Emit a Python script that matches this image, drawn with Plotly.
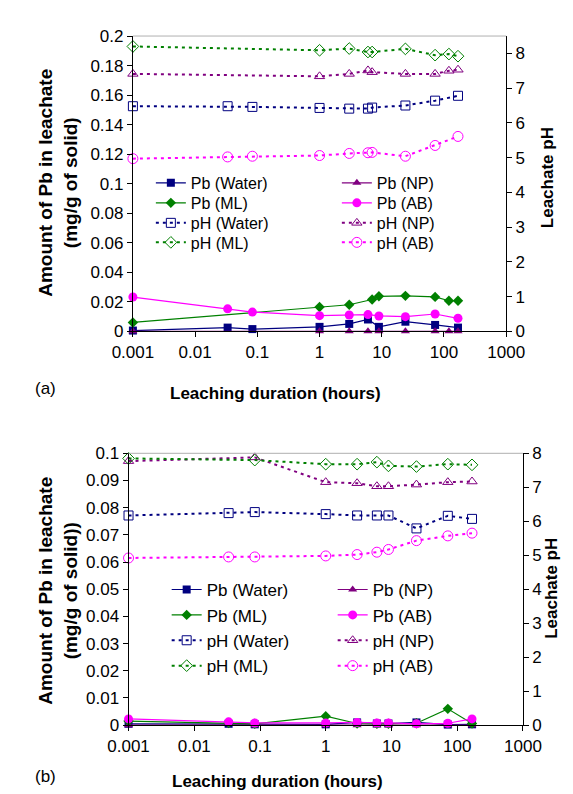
import plotly.graph_objects as go

# ---------------- data (panel a) ----------------
a_x_water = [0.001, 0.0333, 0.0833, 1, 3, 6, 9, 24, 72, 168]
a_pb_water = [0.0005, 0.0025, 0.0015, 0.003, 0.005, 0.008, 0.003, 0.0065, 0.0043, 0.0025]
a_x_np = [0.001, 1, 3, 6, 9, 24, 72, 120, 168]
a_pb_np = [0, 0, 0, 0, 0, 0, 0, 0, 0]
a_x_ml = [0.001, 1, 3, 7, 9, 24, 72, 120, 168]
a_pb_ml = [0.006, 0.0165, 0.018, 0.0215, 0.0237, 0.024, 0.0233, 0.0207, 0.0207]
a_x_ab = [0.001, 0.0333, 0.0833, 1, 3, 6, 9, 24, 72, 168]
a_pb_ab = [0.0232, 0.0152, 0.013, 0.0106, 0.011, 0.0113, 0.0104, 0.0099, 0.0117, 0.0088]

a_xph_water = [0.001, 0.0333, 0.0833, 1, 3, 6, 7, 24, 72, 168]
a_ph_water = [6.48, 6.48, 6.46, 6.43, 6.41, 6.41, 6.44, 6.5, 6.64, 6.78]
a_xph_np = [0.001, 1, 3, 6, 7, 24, 72, 120, 168]
a_ph_np = [7.41, 7.34, 7.41, 7.51, 7.46, 7.41, 7.41, 7.5, 7.53]
a_xph_ml = [0.001, 1, 3, 6, 7, 24, 72, 120, 168]
a_ph_ml = [8.2, 8.09, 8.14, 8.04, 8.04, 8.13, 7.95, 7.98, 7.92]
a_xph_ab = [0.001, 0.0333, 0.0833, 1, 3, 6, 7, 24, 72, 168]
a_ph_ab = [4.97, 5.02, 5.04, 5.06, 5.12, 5.14, 5.15, 5.04, 5.35, 5.61]

# ---------------- data (panel b) ----------------
b_x_water = [0.001, 0.0333, 0.0833, 1, 3, 6, 9, 24, 72, 168]
b_pb_water = [0.0005, 0.0005, 0.0003, 0.0003, 0.001, 0.0006, 0.0006, 0.001, 0.0002, 0.0003]
b_x_np = [0.001, 0.0833, 1, 3, 6, 9, 24, 72, 168]
b_pb_np = [0, 0, 0, 0, 0, 0, 0, 0, 0]
b_x_ml = [0.001, 0.0333, 0.0833, 1, 3, 6, 9, 24, 72, 168]
b_pb_ml = [0.0015, 0.0008, 0.0005, 0.0033, 0.0006, 0.0005, 0.0005, 0.0007, 0.006, 0.0006]
b_x_ab = [0.001, 0.0333, 0.0833, 1, 3, 6, 9, 24, 72, 168]
b_pb_ab = [0.0023, 0.0012, 0.0008, 0.0008, 0.001, 0.0008, 0.0008, 0.0005, 0.0007, 0.0023]

b_xph_water = [0.001, 0.0333, 0.0833, 1, 3, 6, 9, 24, 72, 168]
b_ph_water = [6.17, 6.24, 6.27, 6.21, 6.17, 6.17, 6.17, 5.79, 6.16, 6.07]
b_xph_np = [0.001, 0.0833, 1, 3, 6, 9, 24, 72, 168]
b_ph_np = [7.77, 7.88, 7.15, 7.12, 7.03, 7.03, 7.08, 7.15, 7.17]
b_xph_ml = [0.001, 0.0833, 1, 3, 6, 9, 24, 72, 168]
b_ph_ml = [7.85, 7.8, 7.68, 7.68, 7.74, 7.63, 7.61, 7.68, 7.66]
b_xph_ab = [0.001, 0.0333, 0.0833, 1, 3, 6, 9, 24, 72, 168]
b_ph_ab = [4.92, 4.95, 4.95, 4.98, 5.02, 5.09, 5.17, 5.43, 5.57, 5.65]

x_tickvals = [0.001, 0.01, 0.1, 1, 10, 100, 1000]
x_ticktext = ["0.001", "0.01", "0.1", "1", "10", "100", "1000"]
a_ytickvals = [0, 0.02, 0.04, 0.06, 0.08, 0.1, 0.12, 0.14, 0.16, 0.18, 0.2]
a_yticktext = ["0", "0.02", "0.04", "0.06", "0.08", "0.1", "0.12", "0.14", "0.16", "0.18", "0.2"]
b_ytickvals = [0, 0.01, 0.02, 0.03, 0.04, 0.05, 0.06, 0.07, 0.08, 0.09, 0.1]
b_yticktext = ["0", "0.01", "0.02", "0.03", "0.04", "0.05", "0.06", "0.07", "0.08", "0.09", "0.1"]
ph_tickvals = [0, 1, 2, 3, 4, 5, 6, 7, 8]

NAVY = "#000080"
PURPLE = "#800080"
GREEN = "#008000"
MAGENTA = "#ff00ff"
FONT = "Liberation Sans, Arial, sans-serif"
DOT = "3px,4px"

W, H = 573, 794
fig = go.Figure()


def pb_trace(x, y, name, color, symbol, xa, ya, legend, size=8):
    return go.Scatter(x=x, y=y, name=name, mode="lines+markers",
                      line=dict(color=color, width=1.2),
                      marker=dict(color=color, symbol=symbol, size=size),
                      xaxis=xa, yaxis=ya, legend=legend, cliponaxis=False)


def ph_trace(x, y, name, color, symbol, xa, ya, legend, size=9):
    return go.Scatter(x=x, y=y, name=name, mode="lines+markers",
                      line=dict(color=color, width=2, dash=DOT),
                      marker=dict(color=color, symbol=symbol, size=size,
                                  line=dict(color=color, width=1)),
                      xaxis=xa, yaxis=ya, legend=legend, cliponaxis=False)


# panel a: one legend per row (two entries each)
fig.add_trace(pb_trace(a_x_water, a_pb_water, "Pb (Water)", NAVY, "square", "x", "y", "legend"))
fig.add_trace(pb_trace(a_x_np, a_pb_np, "Pb (NP)", PURPLE, "triangle-up", "x", "y", "legend"))
fig.add_trace(pb_trace(a_x_ml, a_pb_ml, "Pb (ML)", GREEN, "diamond", "x", "y", "legend2"))
fig.add_trace(pb_trace(a_x_ab, a_pb_ab, "Pb (AB)", MAGENTA, "circle", "x", "y", "legend2", size=9))
fig.add_trace(ph_trace(a_xph_water, a_ph_water, "pH (Water)", NAVY, "square-open", "x", "y2", "legend3"))
fig.add_trace(ph_trace(a_xph_np, a_ph_np, "pH (NP)", PURPLE, "triangle-up-open", "x", "y2", "legend3"))
fig.add_trace(ph_trace(a_xph_ml, a_ph_ml, "pH (ML)", GREEN, "diamond-open", "x", "y2", "legend4"))
fig.add_trace(ph_trace(a_xph_ab, a_ph_ab, "pH (AB)", MAGENTA, "circle-open", "x", "y2", "legend4", size=10))

# panel b
fig.add_trace(pb_trace(b_x_water, b_pb_water, "Pb (Water)", NAVY, "square", "x2", "y3", "legend5"))
fig.add_trace(pb_trace(b_x_np, b_pb_np, "Pb (NP)", PURPLE, "triangle-up", "x2", "y3", "legend5"))
fig.add_trace(pb_trace(b_x_ml, b_pb_ml, "Pb (ML)", GREEN, "diamond", "x2", "y3", "legend6"))
fig.add_trace(pb_trace(b_x_ab, b_pb_ab, "Pb (AB)", MAGENTA, "circle", "x2", "y3", "legend6", size=9))
fig.add_trace(ph_trace(b_xph_water, b_ph_water, "pH (Water)", NAVY, "square-open", "x2", "y4", "legend7"))
fig.add_trace(ph_trace(b_xph_np, b_ph_np, "pH (NP)", PURPLE, "triangle-up-open", "x2", "y4", "legend7"))
fig.add_trace(ph_trace(b_xph_ml, b_ph_ml, "pH (ML)", GREEN, "diamond-open", "x2", "y4", "legend8"))
fig.add_trace(ph_trace(b_xph_ab, b_ph_ab, "pH (AB)", MAGENTA, "circle-open", "x2", "y4", "legend8", size=10))

# geometry in pixels
A_L, A_R, A_T, A_B = 111.7, 513, 19.5, 322
B_L, B_R, B_T, B_B = 107, 531, 447, 725.5


def px(v):
    return v / W


def py(v):
    return 1 - v / H


tickfont = dict(family=FONT, size=17, color="black")
common_x = dict(type="log", range=[-3, 3], tickvals=x_tickvals, ticktext=x_ticktext,
                showgrid=False, zeroline=False, showline=True, linecolor="black", linewidth=1,
                ticks="outside", ticklen=5, tickcolor="black", tickfont=tickfont)
common_y = dict(showgrid=False, zeroline=False, showline=True, linecolor="black", linewidth=1,
                ticks="outside", ticklen=5, tickcolor="black", tickfont=tickfont)


def row_legend(x_left, y_mid, size, entry):
    return dict(bgcolor="rgba(0,0,0,0)", font=dict(family=FONT, size=size, color="black"),
                orientation="h", entrywidth=entry, entrywidthmode="pixels",
                xanchor="left", yanchor="middle", x=px(x_left), y=py(y_mid),
                itemwidth=30, borderwidth=0)


A_LEG_X, A_ENTRY = 131, 141
B_LEG_X, B_ENTRY = 148, 121
a_rows = [170, 190.5, 211, 231]
b_rows = [587, 613, 639, 665]

layout_legends = {}
names = ["legend", "legend2", "legend3", "legend4", "legend5", "legend6", "legend7", "legend8"]
for i, yr in enumerate(a_rows):
    layout_legends[names[i]] = row_legend(A_LEG_X, yr, 16, A_ENTRY)
for i, yr in enumerate(b_rows):
    layout_legends[names[4 + i]] = row_legend(B_LEG_X, yr, 17, B_ENTRY)

fig.update_layout(
    width=W, height=H, margin=dict(l=0, r=0, t=0, b=0),
    paper_bgcolor="white", plot_bgcolor="white",
    font=dict(family=FONT, color="black"),
    xaxis=dict(common_x, domain=[px(A_L), px(A_R)], anchor="y"),
    yaxis=dict(common_y, domain=[py(A_B), py(A_T)], range=[0, 0.2], tickvals=a_ytickvals,
               ticktext=a_yticktext, anchor="x"),
    yaxis2=dict(common_y, overlaying="y", side="right", range=[0, 8.5], tickvals=ph_tickvals,
                anchor="x"),
    xaxis2=dict(common_x, domain=[px(B_L), px(B_R)], anchor="y3"),
    yaxis3=dict(common_y, domain=[py(B_B), py(B_T)], range=[0, 0.1], tickvals=b_ytickvals,
                ticktext=b_yticktext, anchor="x2"),
    yaxis4=dict(common_y, overlaying="y3", side="right", range=[0, 8], tickvals=ph_tickvals,
                anchor="x2"),
    **layout_legends,
)

# light grey top border of each plot area
for xr, yr in (("x", "y"), ("x2", "y3")):
    fig.add_shape(type="line", xref=xr + " domain", yref=yr + " domain", x0=0, x1=1, y0=1, y1=1,
                  line=dict(color="#b0b0b0", width=1))

title_font = dict(family=FONT, size=19, color="black")
xt_font = dict(family=FONT, size=17, color="black")
lab_font = dict(family=FONT, size=17, color="black")
ann = [
    dict(text="<b>Leaching duration (hours)</b>", x=px(265), y=py(386), font=xt_font),
    dict(text="<b>Leaching duration (hours)</b>", x=px(267), y=py(783), font=xt_font),
    dict(text="<b>Amount of Pb in leachate<br>(mg/g of solid)</b>", x=px(31), y=py(170), textangle=-90),
    dict(text="<b>Amount of Pb in leachate<br>(mg/g of solid))</b>", x=px(31), y=py(588), textangle=-90),
    dict(text="<b>Leachate pH</b>", x=px(557), y=py(165), textangle=-90, font=lab_font),
    dict(text="<b>Leachate pH</b>", x=px(561), y=py(585), textangle=-90, font=lab_font),
    dict(text="(a)", x=px(18), y=py(381), font=lab_font),
    dict(text="(b)", x=px(18), y=py(778), font=lab_font),
]
for a in ann:
    a.setdefault("font", title_font)
    fig.add_annotation(xref="paper", yref="paper", showarrow=False, xanchor="center",
                       yanchor="middle", **a)

fig.write_html("out.html")
